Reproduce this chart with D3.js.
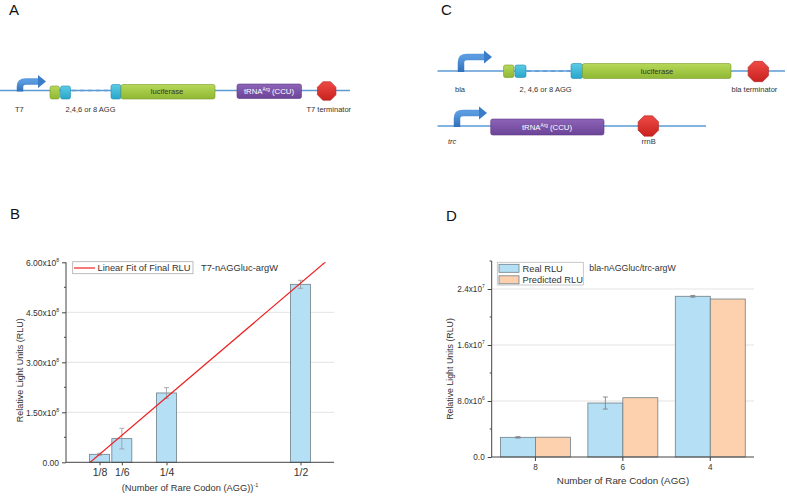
<!DOCTYPE html>
<html>
<head>
<meta charset="utf-8">
<script src="https://cdn.jsdelivr.net/npm/d3@7"></script>
<style>
  html, body { margin: 0; padding: 0; background: #fff; }
  svg { display: block; font-family: "Liberation Sans", Arial, sans-serif; }
</style>
</head>
<body>
<svg id="fig" width="787" height="496"></svg>
<script>
// ---------------- DATA ----------------
// Panel B
const bCategories = ["1/8", "1/6", "1/4", "1/2"];
const bXValues = [1 / 8, 1 / 6, 1 / 4, 1 / 2];
const bValues = [0.24e8, 0.71e8, 2.08e8, 5.34e8];
const bErrors = [0.03e8, 0.31e8, 0.16e8, 0.12e8];
const bYTicks = [0, 1.5e8, 3.0e8, 4.5e8, 6.0e8];
const bYTickLabels = [["0.00", ""], ["1.50x10", "8"], ["3.00x10", "8"], ["4.50x10", "8"], ["6.00x10", "8"]];
const bLegend = ["Linear Fit of Final RLU"];
const bTitle = "T7-nAGGluc-argW";

// Panel D
const dGroups = ["8", "6", "4"];
const dReal = [2.81e6, 7.71e6, 22.96e6];
const dRealErr = [0.1e6, 0.86e6, 0.12e6];
const dPredicted = [2.83e6, 8.47e6, 22.57e6];
const dSeries = ["Real RLU", "Predicted RLU"];
const dYTicks = [0, 8e6, 1.6e7, 2.4e7];
const dYTickLabels = [["0.0", ""], ["8.0x10", "6"], ["1.6x10", "7"], ["2.4x10", "7"]];
const dTitle = "bla-nAGGluc/trc-argW";

// ---------------- STYLE ----------------
const BLUE = "#b4dff5", ORANGE = "#fdd0ae", BAR_STROKE = "#6f7f88";
const AXIS = "#444", GRID = "#e3e3e3", TXT = "#333";
const LINE_BLUE = "#5c9ad6", ARROW_BLUE = "#3a7cc6";
const GREEN_D = "#7b9c2c", CYAN_D = "#208fb0", PURPLE_D = "#5f3b86", RED_D = "#b01f1d";

const svg = d3.select("#fig");

// gradients
const defs = svg.append("defs");
function grad(id, c1, c2) {
  const g = defs.append("linearGradient").attr("id", id).attr("x1", 0).attr("y1", 0).attr("x2", 0).attr("y2", 1);
  g.append("stop").attr("offset", "0%").attr("stop-color", c1);
  g.append("stop").attr("offset", "100%").attr("stop-color", c2);
}
grad("gGreen", "#b6d85a", "#8fb833");
grad("gCyan", "#5ccbe6", "#27a6ca");
grad("gPurple", "#8d64b8", "#6c4497");
grad("gRed", "#ee4a45", "#c92220");
grad("gArrow", "#5a9be0", "#2f6fb8");

// ---------------- PANEL LETTERS ----------------
const letters = [["A", 9, 15], ["C", 441, 15], ["B", 10, 219], ["D", 446, 221]];
svg.selectAll("text.letter").data(letters).join("text")
  .attr("class", "letter").attr("x", d => d[1]).attr("y", d => d[2])
  .attr("font-size", 15).attr("fill", "#111").text(d => d[0]);

// ---------------- DIAGRAM HELPERS ----------------
function hline(x1, x2, y, dashed) {
  svg.append("line").attr("x1", x1).attr("x2", x2).attr("y1", y).attr("y2", y)
    .attr("stroke", LINE_BLUE).attr("stroke-width", 1.4)
    .attr("stroke-dasharray", dashed ? "4,4" : null);
}
function box(x1, x2, y1, y2, fill, stroke) {
  svg.append("rect").attr("x", x1).attr("y", y1).attr("width", x2 - x1).attr("height", y2 - y1)
    .attr("rx", 2).attr("fill", fill).attr("stroke", stroke).attr("stroke-width", 0.6);
}
function promoter(x, y, h, len) {
  const top = y - h;
  svg.append("path")
    .attr("d", `M${x},${y + 1} V${top + 5} Q${x},${top} ${x + 6},${top} H${x + len - 6}`)
    .attr("fill", "none").attr("stroke", "url(#gArrow)").attr("stroke-width", 6.5);
  svg.append("path")
    .attr("d", `M${x + len - 7},${top - 6.5} L${x + len + 1},${top} L${x + len - 7},${top + 6.5} Z`)
    .attr("fill", ARROW_BLUE);
}
function octagon(cx, cy, r) {
  const pts = d3.range(8).map(i => {
    const a = Math.PI / 8 + i * Math.PI / 4;
    return [cx + r * Math.cos(a), cy + r * Math.sin(a)];
  });
  svg.append("polygon").attr("points", pts.map(p => p.join(",")).join(" "))
    .attr("fill", "url(#gRed)").attr("stroke", RED_D).attr("stroke-width", 0.6);
}
function label(x, y, t, size, anchor, italic) {
  svg.append("text").attr("x", x).attr("y", y).attr("font-size", size || 7.5)
    .attr("text-anchor", anchor || "start").attr("fill", TXT)
    .attr("font-style", italic ? "italic" : null).text(t);
}
function trnaText(cx, cy, size) {
  const t = svg.append("text").attr("x", cx).attr("y", cy).attr("font-size", size)
    .attr("text-anchor", "middle").attr("fill", "#fff");
  t.append("tspan").text("tRNA");
  t.append("tspan").attr("font-size", size * 0.6).attr("dy", -size * 0.4).text("Arg");
  t.append("tspan").attr("dy", size * 0.4).text(" (CCU)");
}

// ---------------- PANEL A ----------------
{
  const y = 90.5;
  hline(0, 350, y);
  hline(72, 110, y, true);
  promoter(20, y, 9, 25);
  box(50, 59.5, 86, 99, "url(#gGreen)", GREEN_D);
  box(60.5, 70.5, 86, 99, "url(#gCyan)", CYAN_D);
  box(111, 121, 84.5, 99, "url(#gCyan)", CYAN_D);
  box(121, 215, 84.5, 99, "url(#gGreen)", GREEN_D);
  svg.append("text").attr("x", 167).attr("y", 94.3).attr("font-size", 7.6).attr("text-anchor", "middle")
    .attr("fill", "#333").text("luciferase");
  box(237, 301.5, 84, 98.5, "url(#gPurple)", PURPLE_D);
  trnaText(269, 94.3, 7.8);
  octagon(326.7, 91, 10);
  label(15, 112, "T7");
  label(65.5, 112, "2,4,6 or 8 AGG");
  label(306.5, 112, "T7 terminator");
}

// ---------------- PANEL C ----------------
{
  const y1 = 71;
  hline(437.5, 785, y1);
  hline(527, 570, y1, true);
  promoter(461, y1, 14, 30);
  box(503.5, 514, 65, 77.5, "url(#gGreen)", GREEN_D);
  box(515, 526, 65, 77.5, "url(#gCyan)", CYAN_D);
  box(571, 582.5, 63.5, 78.5, "url(#gCyan)", CYAN_D);
  box(582.5, 731, 63.5, 78.5, "url(#gGreen)", GREEN_D);
  svg.append("text").attr("x", 657).attr("y", 74.3).attr("font-size", 7.6).attr("text-anchor", "middle")
    .attr("fill", "#333").text("luciferase");
  octagon(758.3, 71.5, 11);
  label(455, 92, "bla");
  label(519.5, 92, "2, 4,6 or 8 AGG");
  label(731.5, 92, "bla terminator");

  const y2 = 126;
  hline(437.5, 706, y2);
  promoter(457, y2, 13, 29);
  box(490.7, 604, 119, 135, "url(#gPurple)", PURPLE_D);
  trnaText(547, 129.8, 7.8);
  octagon(648.3, 126, 11);
  label(448, 144, "trc", 7.5, "start", true);
  label(641.5, 144, "rrnB");
}

// ---------------- AXIS HELPERS ----------------
function sciLabel(sel, pair, fs) {
  sel.text(null);
  sel.append("tspan").text(pair[0]);
  if (pair[1]) sel.append("tspan").attr("font-size", fs * 0.6).attr("dy", -fs * 0.45).text(pair[1]);
}

// ---------------- PANEL B ----------------
{
  const L = 66, R = 334, T = 262.3, B = 462.3;
  const x = d3.scaleLinear().domain([0.0625, 0.5625]).range([L, R]);
  const y = d3.scaleLinear().domain([0, 6.0e8]).range([B, T]);
  const g = svg.append("g");
  const barW = 20;

  g.selectAll("line.grid").data(bYTicks.filter(v => v > 0 && v < 6e8)).join("line")
    .attr("x1", L).attr("x2", R).attr("y1", d => y(d)).attr("y2", d => y(d))
    .attr("stroke", GRID).attr("stroke-width", 1);

  g.selectAll("rect.bar").data(bValues).join("rect")
    .attr("x", (d, i) => x(bXValues[i]) - barW / 2).attr("width", barW)
    .attr("y", d => y(d)).attr("height", d => B - y(d))
    .attr("fill", BLUE).attr("stroke", BAR_STROKE).attr("stroke-width", 0.8);

  bValues.forEach((v, i) => {
    const cx = x(bXValues[i]);
    const lo = y(v - bErrors[i]), hi = y(v + bErrors[i]);
    g.append("line").attr("x1", cx).attr("x2", cx).attr("y1", lo).attr("y2", hi).attr("stroke", "#999").attr("stroke-width", 0.8);
    [lo, hi].forEach(yy => g.append("line").attr("x1", cx - 2.5).attr("x2", cx + 2.5).attr("y1", yy).attr("y2", yy).attr("stroke", "#999").attr("stroke-width", 0.8));
  });

  // linear fit (least squares of the bar values)
  const mx = d3.mean(bXValues), my = d3.mean(bValues);
  const sxy = d3.sum(bXValues, (xv, i) => (xv - mx) * (bValues[i] - my));
  const sxx = d3.sum(bXValues, xv => (xv - mx) ** 2);
  const slope = sxy / sxx, icpt = my - slope * mx;
  defs.append("clipPath").attr("id", "clipB").append("rect").attr("x", L).attr("y", T).attr("width", R - L).attr("height", B - T);
  const fitLine = d3.line().x(d => x(d)).y(d => y(slope * d + icpt));
  g.append("path").datum(x.domain()).attr("d", fitLine).attr("clip-path", "url(#clipB)")
    .attr("fill", "none").attr("stroke", "#ee2020").attr("stroke-width", 1.2);

  const ya = d3.axisLeft(y).tickValues(bYTicks).tickSize(4).tickPadding(3);
  const yAx = g.append("g").attr("transform", `translate(${L},0)`).call(ya);
  yAx.selectAll("text").attr("font-size", 8.5).attr("fill", TXT).each(function (d, i) { sciLabel(d3.select(this), bYTickLabels[i], 8.5); });
  const minor = d3.range(0.75e8, 6e8, 1.5e8);
  g.selectAll("line.minor").data(minor).join("line").attr("x1", L - 2).attr("x2", L).attr("y1", d => y(d)).attr("y2", d => y(d)).attr("stroke", AXIS);
  const xa = d3.axisBottom(x).tickValues(bXValues).tickFormat((d, i) => bCategories[i]).tickSize(3).tickPadding(3);
  const xAx = g.append("g").attr("transform", `translate(0,${B})`).call(xa);
  xAx.selectAll("text").attr("font-size", 10.5).attr("fill", TXT);
  [yAx, xAx].forEach(a => { a.select(".domain").attr("stroke", AXIS); a.selectAll(".tick line").attr("stroke", AXIS); });
  yAx.select(".domain").attr("d", `M0,${B}V${T}`);
  xAx.select(".domain").attr("d", `M${L},0H${R}`);

  svg.append("text").attr("transform", `translate(22.5,${(T + B) / 2 + 8}) rotate(-90)`)
    .attr("text-anchor", "middle").attr("font-size", 9).attr("fill", TXT).text("Relative Light Units (RLU)");
  const xt = svg.append("text").attr("x", 190).attr("y", 491).attr("text-anchor", "middle").attr("font-size", 9.3).attr("fill", TXT);
  xt.append("tspan").text("(Number of Rare Codon (AGG))");
  xt.append("tspan").attr("font-size", 5.5).attr("dy", -4).text("-1");

  g.append("rect").attr("x", 72.7).attr("y", 261.7).attr("width", 120.3).attr("height", 12)
    .attr("fill", "#fff").attr("stroke", "#aaa").attr("stroke-width", 0.8);
  g.append("line").attr("x1", 74).attr("x2", 95).attr("y1", 268).attr("y2", 268).attr("stroke", "#ee2020").attr("stroke-width", 1.2);
  g.append("text").attr("x", 97.5).attr("y", 271.3).attr("font-size", 9.3).attr("fill", TXT).text(bLegend[0]);
  g.append("text").attr("x", 201).attr("y", 271.3).attr("font-size", 9.3).attr("fill", TXT).text(bTitle);
}

// ---------------- PANEL D ----------------
{
  const L = 491.7, R = 754, T = 261, B = 457;
  const x = d3.scaleBand().domain(dGroups).range([L, R]).paddingInner(0.2).paddingOuter(0.1);
  const sub = d3.scaleBand().domain(dSeries).range([0, x.bandwidth()]);
  const y = d3.scaleLinear().domain([0, 2.8e7]).range([B, T]);
  const g = svg.append("g");

  g.selectAll("line.grid").data(dYTicks.filter(v => v > 0)).join("line")
    .attr("x1", L).attr("x2", R).attr("y1", d => y(d)).attr("y2", d => y(d))
    .attr("stroke", GRID).attr("stroke-width", 1);

  const seriesVals = [dReal, dPredicted];
  const fills = [BLUE, ORANGE];
  seriesVals.forEach((vals, s) => {
    g.selectAll(`rect.s${s}`).data(vals).join("rect")
      .attr("x", (d, i) => x(dGroups[i]) + sub(dSeries[s])).attr("width", sub.bandwidth())
      .attr("y", d => y(d)).attr("height", d => B - y(d))
      .attr("fill", fills[s]).attr("stroke", BAR_STROKE).attr("stroke-width", 0.8);
  });
  dReal.forEach((v, i) => {
    const cx = x(dGroups[i]) + sub(dSeries[0]) + sub.bandwidth() / 2;
    const lo = y(v - dRealErr[i]), hi = y(v + dRealErr[i]);
    g.append("line").attr("x1", cx).attr("x2", cx).attr("y1", lo).attr("y2", hi).attr("stroke", "#777").attr("stroke-width", 0.8);
    [lo, hi].forEach(yy => g.append("line").attr("x1", cx - 2.5).attr("x2", cx + 2.5).attr("y1", yy).attr("y2", yy).attr("stroke", "#777").attr("stroke-width", 0.8));
  });

  const ya = d3.axisLeft(y).tickValues(dYTicks).tickSize(4).tickPadding(3);
  const yAx = g.append("g").attr("transform", `translate(${L},0)`).call(ya);
  yAx.selectAll("text").attr("font-size", 8.2).attr("fill", TXT).each(function (d, i) { sciLabel(d3.select(this), dYTickLabels[i], 8.2); });
  const minor = d3.range(4e6, 2.81e7, 8e6);
  g.selectAll("line.minor").data(minor).join("line").attr("x1", L - 2).attr("x2", L).attr("y1", d => y(d)).attr("y2", d => y(d)).attr("stroke", AXIS);
  const xa = d3.axisBottom(x).tickSize(4).tickPadding(3);
  const xAx = g.append("g").attr("transform", `translate(0,${B})`).call(xa);
  xAx.selectAll("text").attr("font-size", 8.2).attr("fill", TXT);
  [yAx, xAx].forEach(a => { a.select(".domain").attr("stroke", AXIS); a.selectAll(".tick line").attr("stroke", AXIS); });
  yAx.select(".domain").attr("d", `M0,${B}V${T}`);
  xAx.select(".domain").attr("d", `M${L},0H${R}`);

  svg.append("text").attr("transform", `translate(453,${(T + B) / 2 + 10}) rotate(-90)`)
    .attr("text-anchor", "middle").attr("font-size", 8.8).attr("fill", TXT).text("Relative Light Units (RLU)");
  svg.append("text").attr("x", 623).attr("y", 484).attr("text-anchor", "middle").attr("font-size", 9.8).attr("fill", TXT)
    .text("Number of Rare Codon (AGG)");

  g.append("rect").attr("x", 497.3).attr("y", 262.3).attr("width", 86).attr("height", 22.7)
    .attr("fill", "#fff").attr("stroke", "#bbb").attr("stroke-width", 0.8);
  dSeries.forEach((s, i) => {
    const yy = 264.3 + i * 11.5;
    g.append("rect").attr("x", 499).attr("y", yy).attr("width", 20).attr("height", 8)
      .attr("fill", fills[i]).attr("stroke", BAR_STROKE).attr("stroke-width", 0.8);
    g.append("text").attr("x", 522.5).attr("y", yy + 7.5).attr("font-size", 9.3).attr("fill", TXT).text(s);
  });
  g.append("text").attr("x", 589.3).attr("y", 271).attr("font-size", 8.8).attr("fill", TXT).text(dTitle);
}
</script>
</body>
</html>
